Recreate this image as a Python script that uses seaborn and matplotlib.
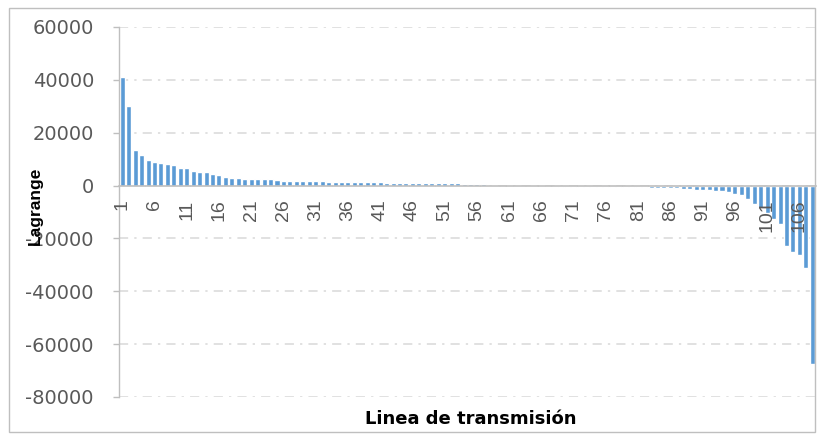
import matplotlib
matplotlib.use("Agg")
import matplotlib.pyplot as plt
from matplotlib.patches import Rectangle
import seaborn as sns
import pandas as pd

# Lagrange multiplier per transmission line (lines 1..108)
lines = [str(i) for i in range(1, 109)]
positive_vals = [41000, 30000, 13500, 11500, 9800, 9000, 8400, 8100, 7600, 6700,
                 6500, 5400, 5300, 5100, 4500, 4000, 3400, 3000, 2900, 2600,
                 2500, 2500, 2400, 2300, 2000, 1900, 1850, 1800, 1800, 1750,
                 1700, 1550, 1500, 1450, 1450, 1400, 1400, 1350, 1300, 1250,
                 1200, 1150, 1100, 1050, 1000, 1000, 950, 950, 900, 900,
                 850, 800, 800, 750, 700, 700, 600]
zero_vals = [0, 0, 0, 0, 0, 0, 0, 0]
negative_vals = [-300, -320, -340, -360, -380, -400, -420, -440, -460, -480,
                 -500, -520, -550, -580, -600, -650, -700, -750, -800, -900,
                 -1000, -1100, -1250, -1400, -1550, -1700, -1850, -2000, -2200, -2500,
                 -3000, -3600, -4900, -7000, -8300, -10500, -12500, -14400, -22800, -25000,
                 -26100, -31300, -67700]
lagrange = positive_vals + zero_vals + negative_vals

y_ticks = [60000, 40000, 20000, 0, -20000, -40000, -60000, -80000]

df = pd.DataFrame({"linea": lines, "lagrange": lagrange})

sns.set_style("white")
plt.rcParams["font.family"] = ["DejaVu Sans"]

W, H = 817, 434
fig = plt.figure(figsize=(W / 100, H / 100), dpi=100)
ax = fig.add_axes([119 / W, 1 - 397 / H, (815.5 - 119) / W, (397 - 27) / H])

sns.barplot(data=df, x="linea", y="lagrange", color="#5B9BD5", saturation=1,
            width=0.78, ax=ax, zorder=2)

ax.set_ylim(-80000, 60000)
ax.set_xlim(-0.5, len(lines) - 0.5)
ax.set_yticks(y_ticks)
ax.set_yticklabels([str(v) for v in y_ticks])

tick_pos = list(range(0, len(lines), 5))
ax.set_xticks(tick_pos)
ax.set_xticklabels([lines[i] for i in tick_pos])

ax.yaxis.grid(True, color="#D9D9D9", linestyle=(0, (6, 4, 1.5, 4)), linewidth=1.1)
ax.xaxis.grid(False)
ax.set_axisbelow(True)

for side in ("top", "right"):
    ax.spines[side].set_visible(False)
ax.spines["left"].set_color("#BFBFBF")
ax.spines["left"].set_linewidth(1.0)
ax.spines["bottom"].set_position(("data", 0))
ax.spines["bottom"].set_color("#BFBFBF")
ax.spines["bottom"].set_linewidth(1.2)
ax.spines["bottom"].set_zorder(3)

ax.tick_params(axis="y", length=4, width=1.0, color="#BFBFBF", labelsize=14,
               labelcolor="#595959", pad=14, left=True)
ax.tick_params(axis="x", length=0, pad=10, labelrotation=90, labelsize=14,
               labelcolor="#595959")
for lbl in ax.get_xticklabels():
    lbl.set_fontfamily("Liberation Sans")
    lbl.set_rotation(90)
# category labels sit on top of the bars
ax.xaxis.set_zorder(4)

ax.set_xlabel("")
ax.set_ylabel("")

fig.text(35 / W, 1 - 206 / H, "Lagrange", rotation=90, ha="center", va="center",
         fontsize=12.5, fontweight="bold", fontfamily="Liberation Sans", color="black")
fig.text(471 / W, 1 - 419 / H, "Linea de transmisión", ha="center", va="center",
         fontsize=13, fontweight="bold", color="black")

# chart area border
fig.patches.append(Rectangle((9 / W, 2 / H), (W - 11) / W, (H - 10) / H,
                             transform=fig.transFigure, fill=False,
                             edgecolor="#BFBFBF", linewidth=1.0))

fig.savefig("out.png", dpi=100)
